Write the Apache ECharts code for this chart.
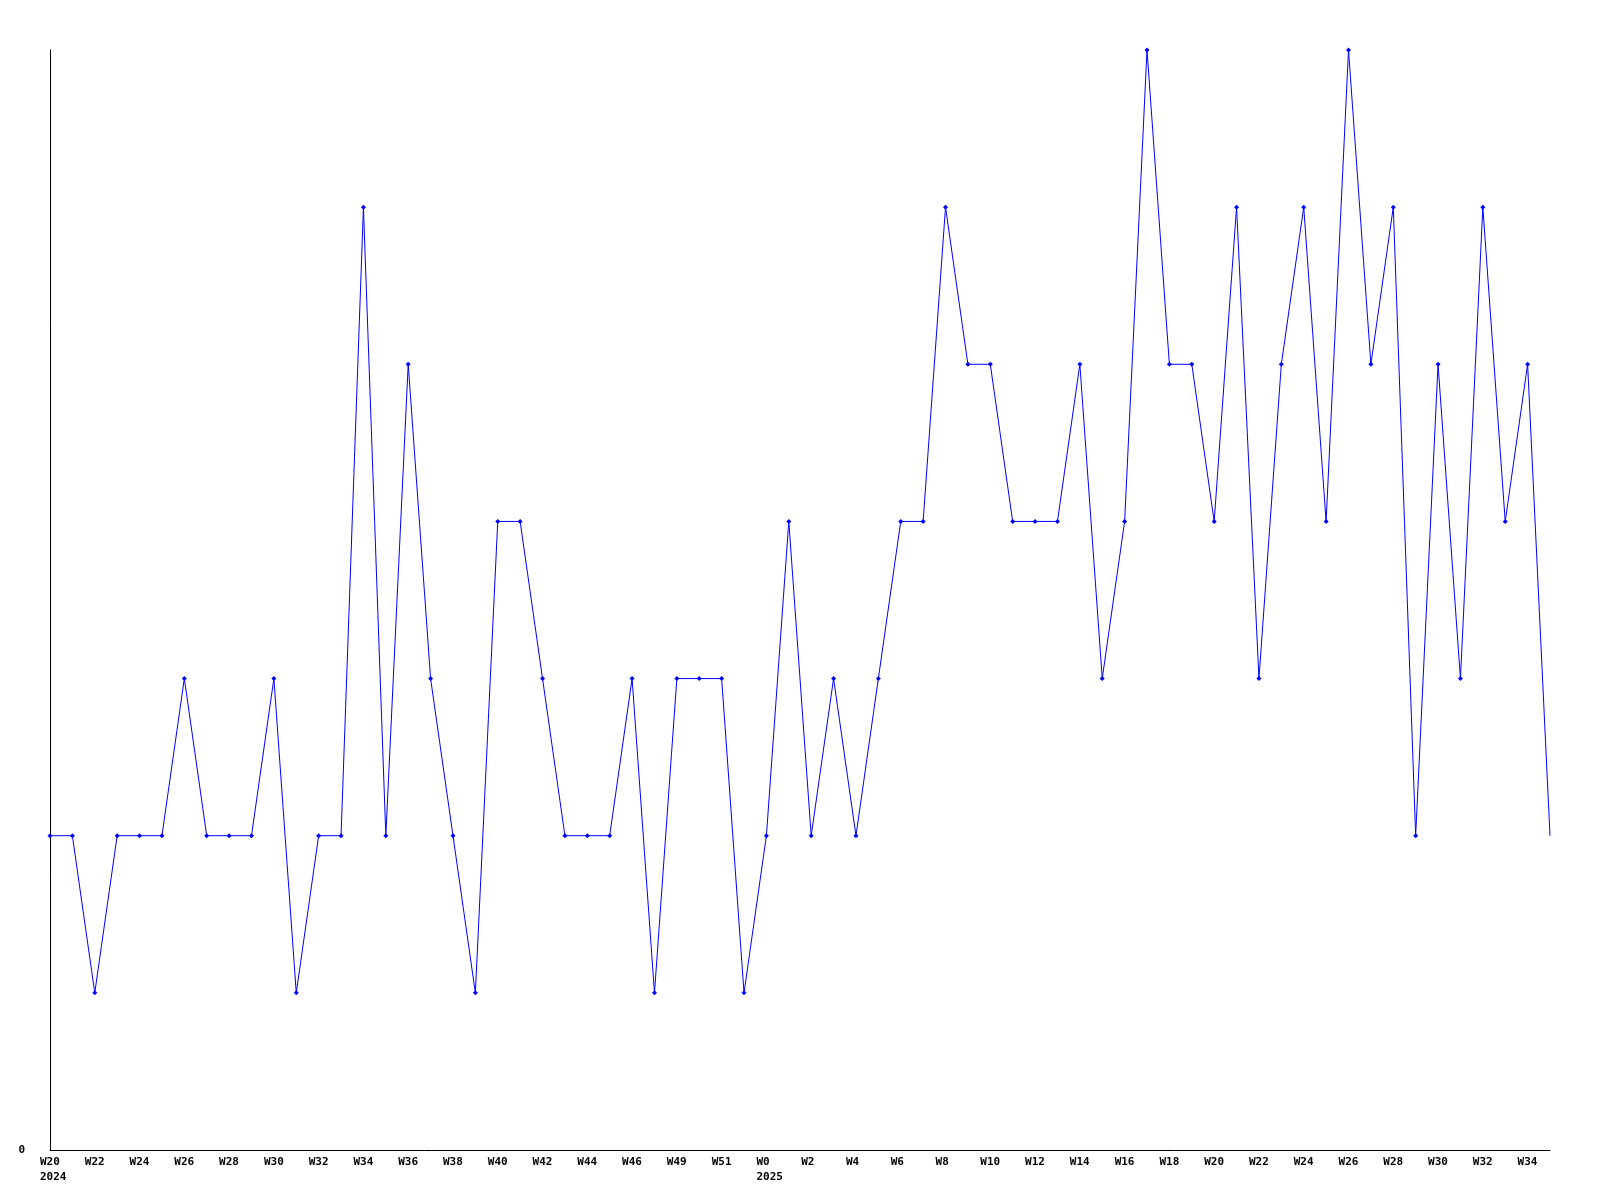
<!DOCTYPE html>
<html>
<head>
<meta charset="utf-8">
<script src="https://cdn.jsdelivr.net/npm/echarts@6/dist/echarts.min.js"></script>
<style>html,body{margin:0;padding:0;background:#fff;}#c{width:1600px;height:1200px;}</style>
</head>
<body>
<div id="c"></div>
<script>
const weeks = ['W20\n2024','W21','W22','W23','W24','W25','W26','W27','W28','W29','W30','W31','W32','W33','W34','W35','W36','W37','W38','W39','W40','W41','W42','W43','W44','W45','W46','W47','W49','W50','W51','W52','W0\n2025','W1','W2','W3','W4','W5','W6','W7','W8','W9','W10','W11','W12','W13','W14','W15','W16','W17','W18','W19','W20','W21','W22','W23','W24','W25','W26','W27','W28','W29','W30','W31','W32','W33','W34','W35'];
const counts = [2,2,1,2,2,2,3,2,2,2,3,1,2,2,6,2,5,3,2,1,4,4,3,2,2,2,3,1,3,3,3,1,2,4,2,3,2,3,4,4,6,5,5,4,4,4,5,3,4,7,5,5,4,6,3,5,6,4,7,5,6,2,5,3,6,4,5,2];
const yTicks = [0];

const chart = echarts.init(document.getElementById('c'), null, {renderer:'canvas'});
const font = {fontFamily:'DejaVu Sans Mono', fontWeight:'bold', fontSize:11, color:'#000'};
chart.setOption({
  animation:false,
  backgroundColor:'#fff',
  grid:{left:50,right:50,top:50,bottom:50,containLabel:false},
  xAxis:{
    type:'category', data:weeks, boundaryGap:false,
    axisLine:{show:true,lineStyle:{color:'#000',width:1}},
    axisTick:{show:false},
    splitLine:{show:false},
    axisLabel:Object.assign({interval:1, margin:5, align:'left', lineHeight:15, padding:[0,0,0,-10]}, font)
  },
  yAxis:{
    type:'value', min:0, max:7, interval:1,
    axisLine:{show:true,lineStyle:{color:'#000',width:1}},
    axisTick:{show:false},
    splitLine:{show:false},
    axisLabel:Object.assign({margin:25, formatter:v=> yTicks.includes(v)?String(v):''}, font)
  },
  series:[{
    type:'line',
    data:counts.map((v,i)=> i===counts.length-1 ? {value:v, symbol:'none'} : v),
    lineStyle:{color:'#0000ff',width:1},
    itemStyle:{color:'#0000ff'},
    symbol:'diamond', symbolSize:5, showSymbol:true,
    clip:false
  }]
});
</script>
</body>
</html>
